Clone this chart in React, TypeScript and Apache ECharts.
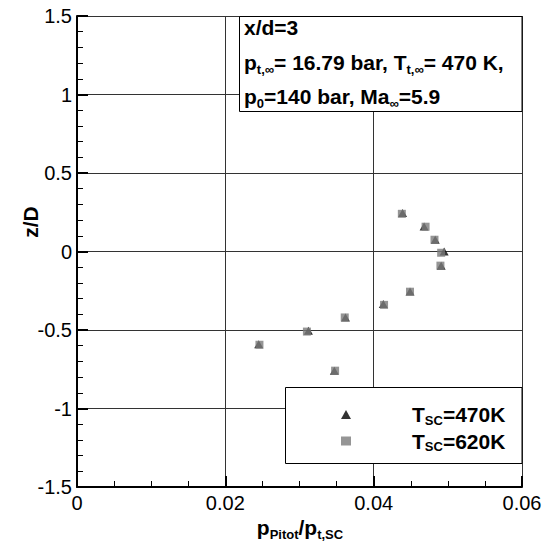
import React, { useEffect, useRef } from "react";
import * as echarts from "echarts";

// ---- data ----
const xTicks = [0, 0.02, 0.04, 0.06];
const yTicks = [-1.5, -1, -0.5, 0, 0.5, 1, 1.5];

const x470 = [0.0439, 0.0468, 0.0483, 0.0495, 0.0491, 0.0449, 0.0413, 0.0362, 0.0312, 0.0245, 0.0347];
const z470 = [0.245, 0.16, 0.075, 0.0, -0.09, -0.255, -0.335, -0.42, -0.505, -0.59, -0.76];
const x620 = [0.0438, 0.047, 0.0482, 0.0491, 0.049, 0.0449, 0.0414, 0.0361, 0.031, 0.0246, 0.0348];
const z620 = [0.24, 0.158, 0.075, -0.008, -0.09, -0.256, -0.34, -0.42, -0.51, -0.594, -0.759];

const seriesNames = ["TSC=470K", "TSC=620K"];

const FONT = "'Liberation Sans', Arial, Helvetica, sans-serif";

export default function App() {
  const ref = useRef<HTMLDivElement>(null);
  useEffect(() => {
    if (!ref.current) return;
    const chart = echarts.init(ref.current, undefined, { renderer: "svg" });
    const mainR = { fontSize: 21, fontWeight: "bold", fontFamily: FONT, color: "#000", lineHeight: 28 };
    const subR = { fontSize: 13, fontWeight: "bold", fontFamily: FONT, color: "#000", lineHeight: 10, verticalAlign: "bottom" };
    const richAll = { m: mainR, s: subR };
    const axisCommon = {
      axisLine: { show: true, onZero: false, lineStyle: { color: "#000", width: 2 } },
      axisTick: { show: true, inside: true, length: 11, lineStyle: { color: "#000", width: 2 } },
      minorTick: { show: true, length: 6, lineStyle: { color: "#000", width: 1 } },
      splitLine: { show: true, lineStyle: { color: "#333", width: 1 } },
      minorSplitLine: { show: false },
      axisLabel: { color: "#000", fontSize: 20, fontFamily: FONT },
    };
    chart.setOption({
      animation: false,
      backgroundColor: "#fff",
      grid: { left: 77, right: 26, top: 16, bottom: 60, containLabel: false },
      xAxis: {
        type: "value",
        min: xTicks[0],
        max: xTicks[xTicks.length - 1],
        interval: 0.02,
        ...axisCommon,
        minorTick: { ...axisCommon.minorTick, splitNumber: 4 },
        axisLabel: {
          ...axisCommon.axisLabel,
          margin: 6,
          formatter: (v: number) => (v === 0 ? "0" : v.toFixed(2)),
        },
      },
      yAxis: {
        type: "value",
        min: yTicks[0],
        max: yTicks[yTicks.length - 1],
        interval: 0.5,
        ...axisCommon,
        minorTick: { ...axisCommon.minorTick, splitNumber: 5 },
        axisLabel: { ...axisCommon.axisLabel, margin: 5, formatter: (v: number) => String(v) },
      },
      legend: {
        orient: "vertical",
        left: 341,
        top: 404,
        padding: 0,
        itemGap: 4,
        itemWidth: 10,
        itemHeight: 9,
        z: 20,
        selectedMode: false,
        data: [
          { name: seriesNames[0], icon: "triangle" },
          { name: seriesNames[1], icon: "rect" },
        ],
        formatter: (n: string) => "{g|}{m|T}{s|SC}{m|" + n.slice(3) + "}",
        textStyle: {
          rich: {
            g: { width: 56, lineHeight: 24 },
            m: { ...mainR, lineHeight: 24 },
            s: { ...subR },
          },
        },
      },
      graphic: [
        {
          type: "rect",
          z: 10,
          shape: { x: 239.5, y: 16.5, width: 282.5, height: 95 },
          style: { fill: "#fff", stroke: "#000", lineWidth: 1 },
        },
        {
          type: "text",
          z: 11,
          x: 244,
          y: 13,
          style: { text: "{m|x/d=3}", rich: richAll },
        },
        {
          type: "text",
          z: 11,
          x: 244,
          y: 48,
          style: {
            text: "{m|p}{s|t,\u221e}{m|= 16.79 bar, T}{s|t,\u221e}{m|= 470 K,}",
            rich: richAll,
          },
        },
        {
          type: "text",
          z: 11,
          x: 244,
          y: 82,
          style: { text: "{m|p}{s|0}{m|=140 bar, Ma}{s|\u221e}{m|=5.9}", rich: richAll },
        },
        {
          type: "rect",
          z: 10,
          shape: { x: 285.5, y: 387.5, width: 236.5, height: 76 },
          style: { fill: "#fff", stroke: "#000", lineWidth: 1 },
        },
        {
          type: "text",
          z: 11,
          x: 300,
          y: 513,
          style: { text: "{m|p}{s|Pitot}{m|/p}{s|t,SC}", rich: richAll, align: "center" },
        },
        {
          type: "text",
          z: 11,
          x: 30,
          y: 222,
          rotation: Math.PI / 2,
          style: {
            text: "z/D",
            fontSize: 21,
            fontWeight: "bold",
            fontFamily: FONT,
            fill: "#000",
            align: "center",
            verticalAlign: "middle",
          },
        },
      ],
      series: [
        {
          name: seriesNames[0],
          type: "scatter",
          symbol: "triangle",
          symbolSize: [9, 8],
          itemStyle: { color: "#000" },
          data: x470.map((x, i) => [x, z470[i]]),
          z: 3,
        },
        {
          name: seriesNames[1],
          type: "scatter",
          symbol: "rect",
          symbolSize: 8,
          itemStyle: { color: "#7b7b7b" },
          data: x620.map((x, i) => [x, z620[i]]),
          z: 4,
        },
      ],
    });
    return () => chart.dispose();
  }, []);
  return <div ref={ref} style={{ width: 548, height: 547, position: "absolute", left: 0, top: 0 }} />;
}
